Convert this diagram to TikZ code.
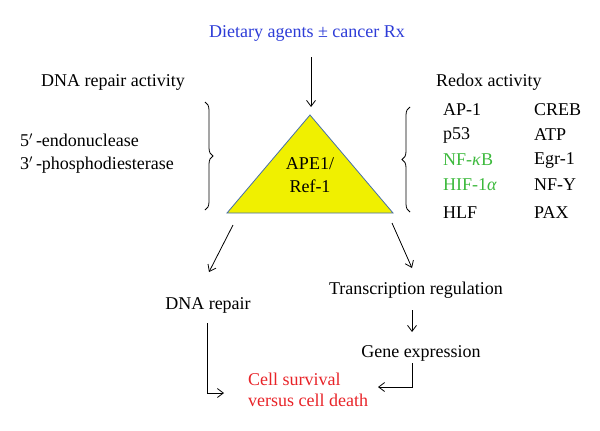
\documentclass[tikz,border=0pt]{standalone}
\usepackage{fontspec}
\setmainfont{Liberation Serif}
\usetikzlibrary{decorations.pathreplacing,arrows.meta}
\definecolor{tblue}{RGB}{45,60,215}
\definecolor{tgreen}{RGB}{60,185,60}
\definecolor{tred}{RGB}{232,35,40}
\definecolor{tyellow}{RGB}{240,240,0}
\definecolor{tedge}{RGB}{70,110,170}
\tikzset{
  lbl/.style={inner sep=0pt, font=\fontsize{18}{21}\selectfont},
  arr/.style={-{Straight Barb[length=6pt,width=9pt]}, line width=0.8pt},
  brc/.style={decorate, decoration={brace, amplitude=8pt}, line width=0.8pt},
}
\begin{document}
\begin{tikzpicture}[x=1pt,y=-1pt]
\useasboundingbox (0,0) rectangle (600,431);
% title
\node[lbl, text=tblue] (title) at (307,33) {Dietary agents ± cancer Rx};
% triangle
\coordinate (apex) at (310,115);
\coordinate (bl) at (227,213);
\coordinate (br) at (393,213);
\draw[fill=tyellow, draw=tedge, line width=0.8pt] (apex) -- (bl) -- (br) -- cycle;
\node[lbl, align=center] (ape) at (310,175) {APE1/\\[2pt]Ref-1};
\coordinate (tstart) at (311,57);
\coordinate (apetop) at (311,107);
\draw[arr] (tstart) -- (apetop);
% left side
\node[lbl] (dnaact) at (113,82) {DNA repair activity};
\node[lbl, anchor=west] (endo) at (20,140) {5$'$\,-endonuclease};
\node[lbl, anchor=west] (phos) at (20,165) {3$'$\,-phosphodiesterase};
\coordinate (lb1) at (205,102);
\coordinate (lb2) at (205,210);
\draw[brc] (lb1) -- (lb2);
% right side
\node[lbl, anchor=west] (redox) at (436,82) {Redox activity};
\coordinate (rb1) at (410,212);
\coordinate (rb2) at (410,107);
\draw[brc] (rb1) -- (rb2);
\node[lbl, anchor=west] (ap1) at (443,110) {AP-1};
\node[lbl, anchor=west] (p53) at (443,135) {p53};
\node[lbl, anchor=west, text=tgreen] (nfkb) at (443,160) {NF-\textit{κ}B};
\node[lbl, anchor=west, text=tgreen] (hif) at (443,185) {HIF-1\textit{α}};
\node[lbl, anchor=west] (hlf) at (443,213) {HLF};
\node[lbl, anchor=west] (creb) at (534,110) {CREB};
\node[lbl, anchor=west] (atp) at (534,135) {ATP};
\node[lbl, anchor=west] (egr) at (534,160) {Egr-1};
\node[lbl, anchor=west] (nfy) at (534,185) {NF-Y};
\node[lbl, anchor=west] (pax) at (534,213) {PAX};
% lower part
\coordinate (la1) at (233,225);
\coordinate (la2) at (209,272);
\draw[arr] (la1) -- (la2);
\coordinate (ra1) at (392,223);
\coordinate (ra2) at (412,268);
\draw[arr] (ra1) -- (ra2);
\node[lbl] (dnarep) at (208,305) {DNA repair};
\node[lbl] (trans) at (416,290) {Transcription regulation};
\node[lbl] (gene) at (421,353) {Gene expression};
\node[lbl, anchor=west, text=tred, align=left] (cell) at (248,390) {Cell survival\\versus cell death};
\coordinate (ta) at (412,310);
\coordinate (tb) at (412,332);
\draw[arr] (ta) -- (tb);
\coordinate (g1) at (412,363);
\coordinate (g2) at (412,387);
\coordinate (g3) at (378,387);
\draw[arr] (g1) -- (g2) -- (g3);
\coordinate (d1) at (207,323);
\coordinate (d2) at (207,393);
\coordinate (d3) at (224,393);
\draw[arr] (d1) -- (d2) -- (d3);
\end{tikzpicture}
\end{document}
